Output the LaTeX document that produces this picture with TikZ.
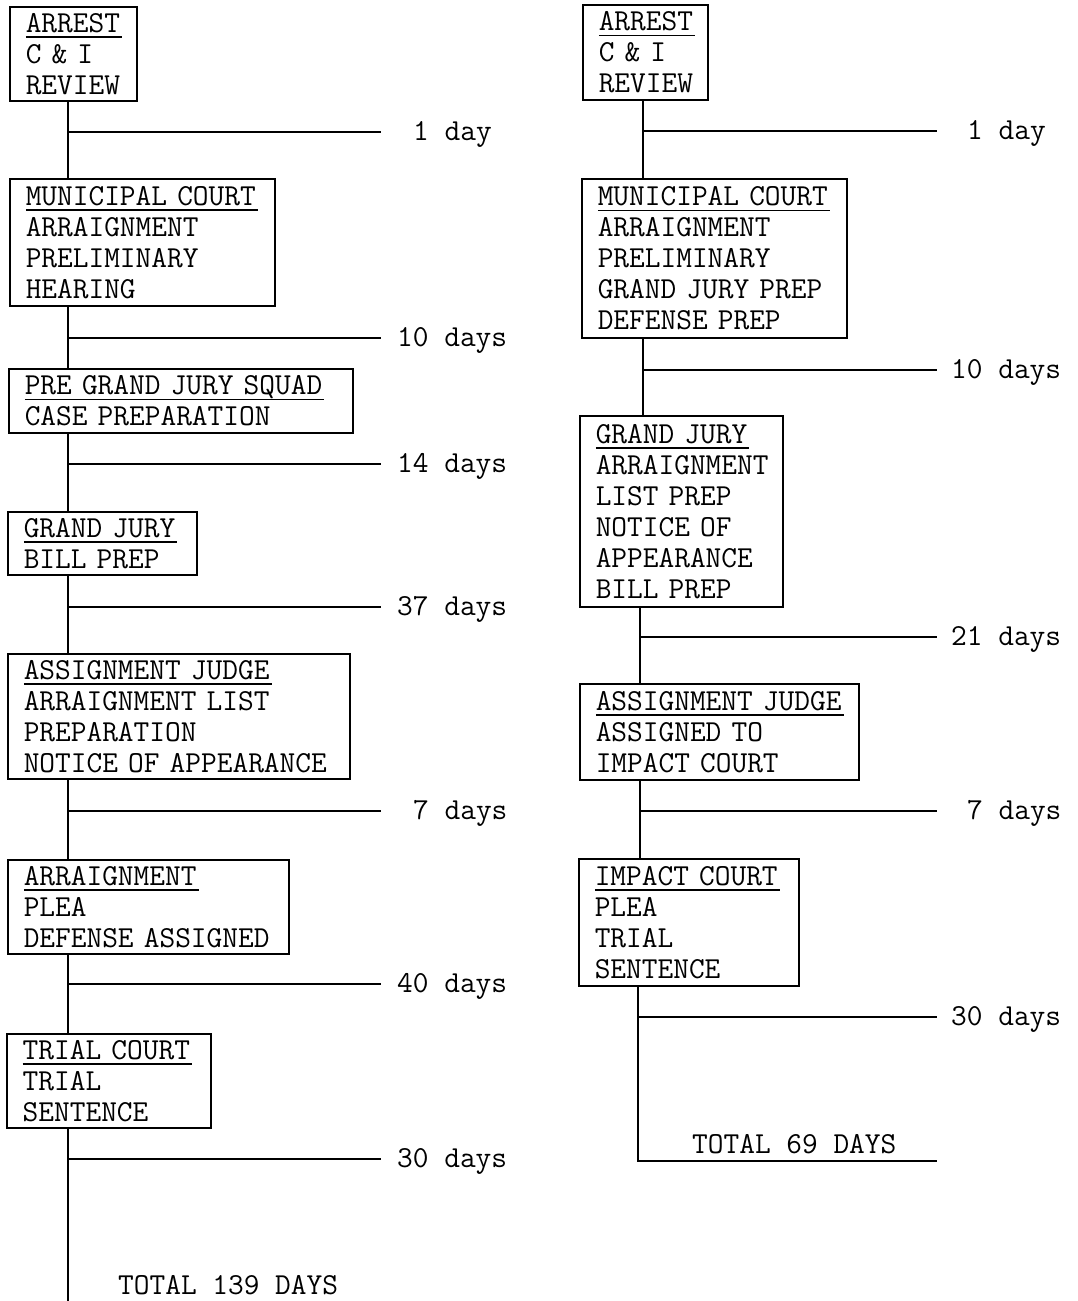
\documentclass[tikz,border=0pt]{standalone}
\usepackage{tikz}
\usetikzlibrary{positioning}

\newcommand{\typefont}{\ttfamily\fontsize{30.5}{31}\selectfont}
\newcommand{\stagehead}[1]{\setbox0\hbox{#1}\rlap{\rule[-5.5pt]{\dimexpr\wd0+2pt\relax}{1.3pt}}\box0}

\begin{document}
\begin{tikzpicture}[
    x=1pt, y=-1pt,
    stage/.style={rectangle, draw, line width=1.5pt, anchor=north west, align=left, inner xsep=16pt, inner ysep=0pt, font=\typefont},
    link/.style={line width=1.5pt},
    dur/.style={anchor=base west, inner sep=0pt, font=\typefont}
]
\useasboundingbox (0,0) rectangle (1078,1301);

\node[stage, text width=95pt, minimum height=94pt] (l1) at (9,6) {\stagehead{ARREST}\\C~\&~I\\REVIEW};
\node[stage, text width=233pt, minimum height=127pt] (l2) at (9,178) {\stagehead{MUNICIPAL~COURT}\\ARRAIGNMENT\\PRELIMINARY\\HEARING};
\node[stage, text width=312pt, minimum height=64pt] (l3) at (8,368) {\stagehead{PRE~GRAND~JURY~SQUAD}\\CASE~PREPARATION};
\node[stage, text width=157pt, minimum height=63pt] (l4) at (7,511) {\stagehead{GRAND~JURY}\\BILL~PREP};
\node[stage, text width=310pt, minimum height=125pt] (l5) at (7,653) {\stagehead{ASSIGNMENT~JUDGE}\\ARRAIGNMENT~LIST\\PREPARATION\\NOTICE~OF~APPEARANCE};
\node[stage, text width=249pt, minimum height=94pt] (l6) at (7,859) {\stagehead{ARRAIGNMENT}\\PLEA\\DEFENSE~ASSIGNED};
\node[stage, text width=172pt, minimum height=94pt] (l7) at (6,1033) {\stagehead{TRIAL~COURT}\\TRIAL\\SENTENCE};

\coordinate (tl1) at (68,132);
\coordinate (tl2) at (68,338);
\coordinate (tl3) at (68,464);
\coordinate (tl4) at (68,607);
\coordinate (tl5) at (68,811);
\coordinate (tl6) at (68,984);
\coordinate (tl7) at (68,1159);
\coordinate (lbot) at (68,1301);
\coordinate (lend) at (381,0);

\draw[link] (l1.south -| tl1) -- (l2.north -| tl1);
\draw[link] (l2.south -| tl2) -- (l3.north -| tl2);
\draw[link] (l3.south -| tl3) -- (l4.north -| tl3);
\draw[link] (l4.south -| tl4) -- (l5.north -| tl4);
\draw[link] (l5.south -| tl5) -- (l6.north -| tl5);
\draw[link] (l6.south -| tl6) -- (l7.north -| tl6);
\draw[link] (l7.south -| tl7) -- (lbot);

\draw[link] (tl1) -- (tl1 -| lend);
\draw[link] (tl2) -- (tl2 -| lend);
\draw[link] (tl3) -- (tl3 -| lend);
\draw[link] (tl4) -- (tl4 -| lend);
\draw[link] (tl5) -- (tl5 -| lend);
\draw[link] (tl6) -- (tl6 -| lend);
\draw[link] (tl7) -- (tl7 -| lend);

\node[dur] (dl1) at (413,140) {1 day};
\node[dur] (dl2) at (397,346) {10 days};
\node[dur] (dl3) at (397,472) {14 days};
\node[dur] (dl4) at (397,615) {37 days};
\node[dur] (dl5) at (413,819) {7 days};
\node[dur] (dl6) at (397,992) {40 days};
\node[dur] (dl7) at (397,1167) {30 days};
\node[dur] (ltotal) at (118,1294) {TOTAL 139 DAYS};

\node[stage, text width=93pt, minimum height=95pt] (r1) at (582,4) {\stagehead{ARREST}\\C~\&~I\\REVIEW};
\node[stage, text width=233pt, minimum height=159pt] (r2) at (581,178) {\stagehead{MUNICIPAL~COURT}\\ARRAIGNMENT\\PRELIMINARY\\GRAND~JURY~PREP\\DEFENSE~PREP};
\node[stage, text width=171pt, minimum height=191pt] (r3) at (579,415) {\stagehead{GRAND~JURY}\\ARRAIGNMENT\\LIST~PREP\\NOTICE~OF\\APPEARANCE\\BILL~PREP};
\node[stage, text width=247pt, minimum height=96pt] (r4) at (579,683) {\stagehead{ASSIGNMENT~JUDGE}\\ASSIGNED~TO\\IMPACT~COURT};
\node[stage, text width=188pt, minimum height=127pt] (r5) at (578,858) {\stagehead{IMPACT~COURT}\\PLEA\\TRIAL\\SENTENCE};

\coordinate (tr1) at (643,131);
\coordinate (tr2) at (643,370);
\coordinate (tr3) at (640,637);
\coordinate (tr4) at (640,811);
\coordinate (tr5) at (638,1017);
\coordinate (rbot) at (638,1161);
\coordinate (rend) at (937,0);

\draw[link] (r1.south -| tr1) -- (r2.north -| tr1);
\draw[link] (r2.south -| tr2) -- (r3.north -| tr2);
\draw[link] (r3.south -| tr3) -- (r4.north -| tr3);
\draw[link] (r4.south -| tr4) -- (r5.north -| tr4);
\draw[link] (r5.south -| tr5) -- (rbot) -- (rbot -| rend);

\draw[link] (tr1) -- (tr1 -| rend);
\draw[link] (tr2) -- (tr2 -| rend);
\draw[link] (tr3) -- (tr3 -| rend);
\draw[link] (tr4) -- (tr4 -| rend);
\draw[link] (tr5) -- (tr5 -| rend);

\node[dur] (dr1) at (967,139) {1 day};
\node[dur] (dr2) at (951,378) {10 days};
\node[dur] (dr3) at (951,645) {21 days};
\node[dur] (dr4) at (967,819) {7 days};
\node[dur] (dr5) at (951,1025) {30 days};
\node[dur] (rtotal) at (692,1153) {TOTAL 69 DAYS};

\end{tikzpicture}
\end{document}
